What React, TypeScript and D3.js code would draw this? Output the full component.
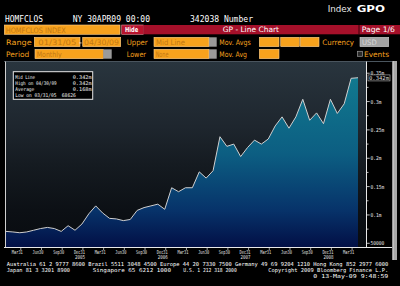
import React from "react";
import * as d3 from "d3";

// Monthly values, Jan 2005 .. Apr 2009 (HOMFCLOS Index)
const values = [
  71000, 70000, 68626, 70000, 73000, 76000, 78000, 76000, 71000, 81000, 73000, 84000,
  102000, 116000, 103500, 94000, 93000, 90000, 92000, 108000, 113000, 116000, 119000, 110000,
  148000, 141000, 148000, 148000, 176000, 165000, 178000, 238000, 221000, 225000, 203000, 219000,
  232000, 225000, 234000, 257000, 273000, 253000, 273000, 304000, 267000, 280000, 261000, 304000,
  279000, 296000, 341000, 342038,
];
const quarterIdx = [2, 5, 8, 11, 14, 17, 20, 23, 26, 29, 32, 35, 38, 41, 44, 47, 50];
const quarterLabels = [
  "Mar31", "Jun30", "Sep30", "Dec31", "Mar31", "Jun30", "Sep30", "Dec31", "Mar31",
  "Jun30", "Sep30", "Dec31", "Mar31", "Jun30", "Sep30", "Dec31", "Mar31",
];
const yearIdx = [11, 23, 35, 47];
const yearLabels = ["2005", "2006", "2007", "2008"];
const yTickValues = [50000, 100000, 150000, 200000, 250000, 300000, 350000];
const yTickLabels = ["50000", "0.1m", "0.15m", "0.2m", "0.25m", "0.3m", "0.35m"];
const yMinorValues = [75000, 125000, 175000, 225000, 275000, 325000];
const legendLabels = ["Mid Line", "High on 04/30/09", "Average", "Low on 03/31/05"];
const legendValues = ["0.342m", "0.342m", "0.168m", "68626"];
const lastLabel = "0.342m";

const SANS = "DejaVu Sans, sans-serif";
const MONO = "DejaVu Sans Mono, monospace";
const ORANGE = "#f5a01e";
const BOXTXT = "#c27814";

type TP = {
  x: number; y: number; len?: number; size?: number; fill?: string; weight?: any;
  anchor?: "start" | "middle" | "end"; font?: string; children: React.ReactNode;
};
const T = ({ x, y, len, size = 7, fill = "#fff", weight = "normal", anchor = "start", font = SANS, children }: TP) => (
  <text x={x} y={y} fontSize={size} fill={fill} fontWeight={weight} textAnchor={anchor} fontFamily={font}
    {...(len ? { textLength: len, lengthAdjust: "spacingAndGlyphs" } : {})}>{children}</text>
);

const Box = ({ x, y, w, h, fill = "#f7a21d" }: { x: number; y: number; w: number; h: number; fill?: string }) => (
  <rect x={x} y={y} width={w} height={h} fill={fill} stroke="#ffd08c" strokeWidth={0.6} />
);

export default function App() {
  const plotL = 5.5, plotR = 366.5, plotT = 61.5, plotB = 247.5;
  const x = d3.scaleLinear().domain([0, values.length - 1]).range([6, 358]);
  const y = d3.scaleLinear().domain([42600, 368000]).range([plotB, 63]);
  const area = d3.area<number>().x((_, i) => x(i)).y0(plotB).y1((d) => y(d));
  const line = d3.line<number>().x((_, i) => x(i)).y((d) => y(d));

  return (
    <div style={{ position: "fixed", left: 0, top: 0, width: 400, height: 286, background: "#000" }}>
      <svg width={400} height={286} style={{ display: "block" }}>
        <defs>
          <linearGradient id="bg" x1="0" y1="0" x2="0" y2="1">
            <stop offset="0" stopColor="#29353e" />
            <stop offset="0.35" stopColor="#1e262e" />
            <stop offset="0.55" stopColor="#151b21" />
            <stop offset="0.8" stopColor="#0c1015" />
            <stop offset="1" stopColor="#080b0f" />
          </linearGradient>
          <linearGradient id="fill" gradientUnits="userSpaceOnUse" x1="0" y1={y(342038)} x2="0" y2={plotB}>
            <stop offset="0" stopColor="#11798f" />
            <stop offset="0.45" stopColor="#0c5e82" />
            <stop offset="0.78" stopColor="#07336a" />
            <stop offset="1" stopColor="#020f45" />
          </linearGradient>
        </defs>
        <rect x={0} y={0} width={400} height={286} fill="#000" />

        {/* header */}
        <T x={5} y={21.5} len={38} size={8.5} font={MONO}>HOMFCLOS</T>
        <T x={72.7} y={21.5} len={77.3} size={8.5} font={MONO}>NY 30APR09 00:00</T>
        <T x={190} y={21.5} len={63} size={8.5} font={MONO}>342038 Number</T>
        <T x={327.7} y={11.8} len={24} size={8} fill="#e8e8e8">Index</T>
        <T x={356.7} y={12} len={28.3} size={9.5} weight="bold">GPO</T>

        {/* row 2 */}
        <Box x={4.3} y={25} w={115.7} h={9.3} />
        <T x={5.7} y={32.6} len={60} size={7.5} fill={BOXTXT}>HOMFCLOS INDEX</T>
        <rect x={121.7} y={25} width={21.6} height={9.3} fill="#b8142e" stroke="#e8909a" strokeWidth={0.6} />
        <T x={125} y={32.4} len={13.3} size={7} weight="bold">Hide</T>
        <rect x={143.3} y={25} width={256.7} height={9.3} fill="#a5102a" />
        <T x={222.7} y={32.4} len={56.3} size={7.5}>GP - Line Chart</T>
        <line x1={359} x2={359} y1={25} y2={34.3} stroke="#3a0008" strokeWidth={1} />
        <T x={361.7} y={32.4} len={33.3} size={7.5}>Page 1/6</T>

        {/* row 3 */}
        <T x={6} y={45.3} len={25.7} size={7.5} fill={ORANGE}>Range</T>
        <Box x={34.3} y={37.3} w={45.7} h={9.4} />
        <T x={38.3} y={45} len={38} size={7.5} fill={BOXTXT}>01/31/05</T>
        <T x={79} y={45} len={3} size={7.5}>-</T>
        <Box x={82.7} y={37.3} w={38} h={9.4} />
        <T x={84} y={45} len={35} size={7.5} fill={BOXTXT}>04/30/09</T>
        <T x={126.7} y={45.3} len={21} size={7.5} fill={ORANGE}>Upper</T>
        <Box x={154} y={37.3} w={55} h={9.4} />
        <rect x={209} y={37.3} width={7.7} height={9.4} fill="#9a9a9a" />
        <T x={156} y={45} len={29} size={7.5} fill={BOXTXT}>Mid Line</T>
        <T x={219.3} y={45.3} len={31.4} size={7.5} fill={ORANGE}>Mov. Avgs</T>
        <Box x={259.3} y={37.3} w={19.7} h={9.4} />
        <Box x={280.7} y={37.3} w={18.6} h={9.4} />
        <Box x={300.3} y={37.3} w={18.7} h={9.4} />
        <T x={322.3} y={45.3} len={31.7} size={7.5} fill={ORANGE}>Currency</T>
        <rect x={360} y={37.3} width={28.7} height={9.4} fill="#a3a3a3" stroke="#cfcfcf" strokeWidth={0.6} />
        <T x={362} y={45} len={14.7} size={7.5} fill="#d8d8d8">USD</T>

        {/* row 4 */}
        <T x={6} y={57.2} len={23.3} size={7.5} fill={ORANGE}>Period</T>
        <Box x={35} y={49.3} w={68.3} h={9.4} />
        <rect x={103.3} y={49.3} width={8.4} height={9.4} fill="#9a9a9a" />
        <T x={36.7} y={57} len={25} size={7.5} fill={BOXTXT}>Monthly</T>
        <T x={126.7} y={57.2} len={19.3} size={7.5} fill={ORANGE}>Lower</T>
        <Box x={154} y={49.3} w={55} h={9.4} />
        <rect x={209} y={49.3} width={7.7} height={9.4} fill="#9a9a9a" />
        <T x={155.7} y={57} len={12.7} size={7.5} fill={BOXTXT}>None</T>
        <T x={219.3} y={57.2} len={27.7} size={7.5} fill={ORANGE}>Mov. Avg</T>
        <Box x={259.3} y={49.3} w={19.7} h={9.4} />
        <rect x={357.5} y={51.3} width={5} height={5} fill="#2a2a2a" stroke="#9a9a9a" strokeWidth={0.7} />
        <T x={364} y={57.2} len={25} size={7.5} fill={ORANGE}>Events</T>

        {/* plot panel */}
        <rect x={plotL} y={plotT} width={plotR - plotL} height={plotB - plotT} fill="url(#bg)" />
        <path d={area(values) || ""} fill="url(#fill)" />
        <path d={line(values) || ""} fill="none" stroke="#cfcfcf" strokeWidth={1} />
        <line x1={4} x2={392} y1={plotT} y2={plotT} stroke="#4a555e" strokeWidth={1} />
        <line x1={plotL} x2={plotL} y1={plotT} y2={plotB} stroke="#cfcfcf" strokeWidth={1} />
        <line x1={plotR} x2={plotR} y1={plotT} y2={plotB} stroke="#e8e8e8" strokeWidth={1} />
        <line x1={4} x2={392} y1={plotB} y2={plotB} stroke="#e8e8e8" strokeWidth={1} />

        {/* legend */}
        <rect x={13.3} y={71.7} width={79.4} height={27.6} fill="#000" stroke="#e6e6e6" strokeWidth={1} />
        {legendLabels.map((l, i) => (
          <T key={l} x={15.3} y={79 + i * 5.9} size={5} fill="#f0f0f0" font={MONO}
            len={[19.7, 41.3, 19, 41.3][i]}>{l}</T>
        ))}
        {legendValues.map((v, i) =>
          i < 3 ? (
            <T key={i} x={91.7} y={79 + i * 5.9} size={5} anchor="end" fill="#f0f0f0" font={MONO} len={19}>{v}</T>
          ) : (
            <T key={i} x={61.7} y={79 + i * 5.9} size={5} fill="#f0f0f0" font={MONO} len={14.3}>{v}</T>
          )
        )}

        {/* right axis */}
        {yMinorValues.map((v) => (
          <line key={v} x1={plotR} x2={plotR + 2} y1={y(v)} y2={y(v)} stroke="#e8e8e8" strokeWidth={0.8} />
        ))}
        {yTickValues.map((v, i) => (
          <g key={v}>
            <line x1={plotR} x2={plotR + 3.2} y1={y(v)} y2={y(v)} stroke="#e8e8e8" strokeWidth={0.8} />
            <T x={370.5} y={y(v) + 2.1} size={5.5} fill="#e8e8e8" font={MONO}
              len={yTickLabels[i].length * 2.75}>{yTickLabels[i]}</T>
          </g>
        ))}
        <rect x={368} y={y(342038) - 2.8} width={22} height={6} fill="#000" stroke="#bdbdbd" strokeWidth={0.6} />
        <T x={369} y={y(342038) + 2.2} size={5.5} fill="#dcdcdc" font={MONO} len={20}>{lastLabel}</T>

        {/* scrollbar */}
        <rect x={392.5} y={61} width={4.5} height={199} fill="#a8a8a8" />
        <rect x={392.5} y={61} width={1} height={199} fill="#dadada" />

        {/* x axis */}
        {quarterIdx.map((qi, k) => (
          <g key={k}>
            <line x1={x(qi) + 1} x2={x(qi) + 1} y1={plotB} y2={plotB + 2.5} stroke="#e8e8e8" strokeWidth={0.7} />
            <T x={x(qi) - 2.5} y={254} size={5.5} anchor="middle" fill="#e0e0e0" font={MONO} len={11}>
              {quarterLabels[k]}
            </T>
          </g>
        ))}
        {yearIdx.map((yi, k) => (
          <T key={k} x={x(yi) - 2} y={259.3} size={5.5} anchor="middle" fill="#e0e0e0" font={MONO} len={10}>
            {yearLabels[k]}
          </T>
        ))}

        {/* footer */}
        <T x={6.7} y={265.7} size={5.4} font={MONO} len={381.6}>
          Australia 61 2 9777 8600 Brazil 5511 3048 4500 Europe 44 20 7330 7500 Germany 49 69 9204 1210 Hong Kong 852 2977 6000
        </T>
        <T x={6.7} y={272.2} size={5.4} font={MONO} len={63.3}>Japan 81 3 3201 8900</T>
        <T x={92.7} y={272.2} size={5.4} font={MONO} len={78.3}>Singapore 65 6212 1000</T>
        <T x={183.3} y={272.2} size={5.4} font={MONO} len={53.4}>U.S. 1 212 318 2000</T>
        <T x={268.3} y={272.2} size={5.4} font={MONO} len={120}>Copyright 2009 Bloomberg Finance L.P.</T>
        <T x={313.3} y={278.4} size={5.4} font={MONO} len={75}>0 13-May-09  9:48:59</T>
      </svg>
    </div>
  );
}
